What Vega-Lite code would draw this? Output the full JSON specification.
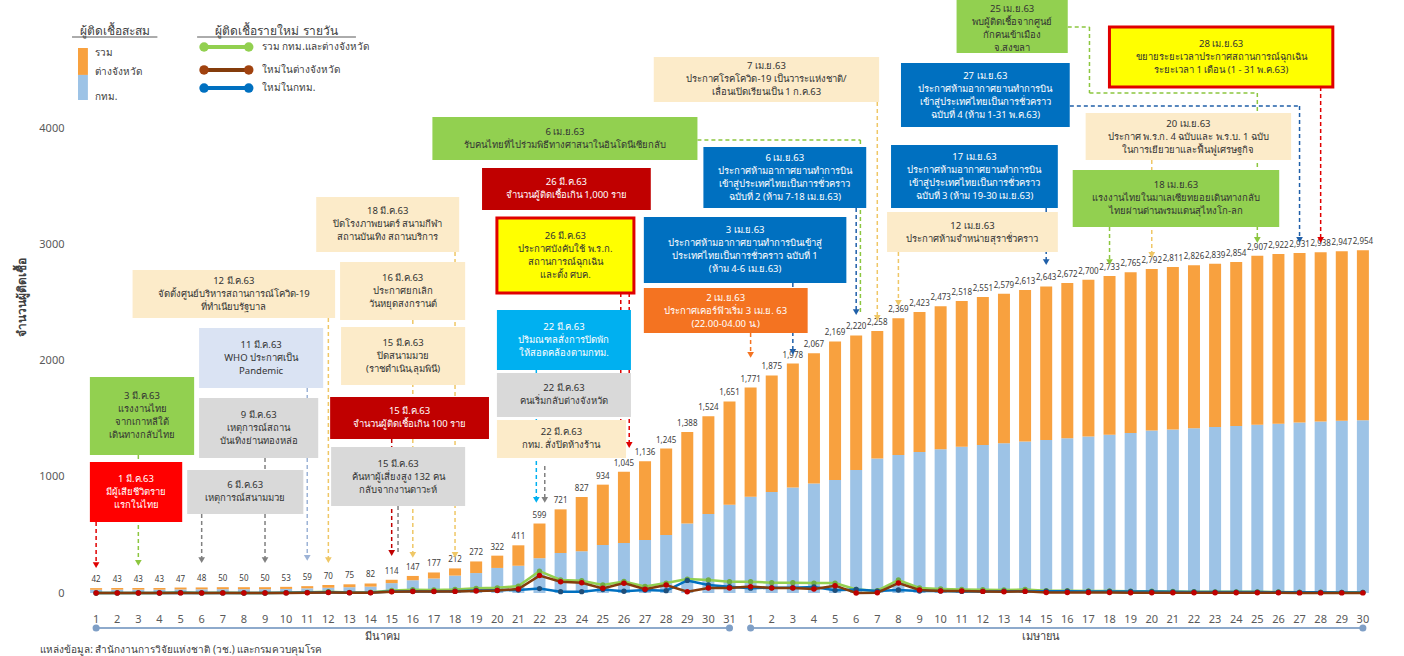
{
 "$schema": "https://vega.github.io/schema/vega-lite/v6.json",
 "width": 1319, "height": 593,
 "autosize": "none",
 "padding": {"left": 70, "top": 0, "right": 15, "bottom": 63},
 "background": "white",
 "config": {"font": "Noto Sans", "view": {"stroke": null}},
 "datasets": {
  "days": [
   {"d":1,"dom":1,"total":42,"bkk":28,"g":0,"p":0,"b":0},
   {"d":2,"dom":2,"total":43,"bkk":29,"g":1,"p":0,"b":1},
   {"d":3,"dom":3,"total":43,"bkk":29,"g":0,"p":0,"b":0},
   {"d":4,"dom":4,"total":43,"bkk":29,"g":0,"p":0,"b":0},
   {"d":5,"dom":5,"total":47,"bkk":31,"g":4,"p":1,"b":3},
   {"d":6,"dom":6,"total":48,"bkk":32,"g":1,"p":0,"b":1},
   {"d":7,"dom":7,"total":50,"bkk":33,"g":2,"p":1,"b":1},
   {"d":8,"dom":8,"total":50,"bkk":33,"g":0,"p":0,"b":0},
   {"d":9,"dom":9,"total":50,"bkk":33,"g":0,"p":0,"b":0},
   {"d":10,"dom":10,"total":53,"bkk":35,"g":3,"p":1,"b":2},
   {"d":11,"dom":11,"total":59,"bkk":40,"g":6,"p":2,"b":4},
   {"d":12,"dom":12,"total":70,"bkk":45,"g":11,"p":4,"b":7},
   {"d":13,"dom":13,"total":75,"bkk":50,"g":5,"p":2,"b":3},
   {"d":14,"dom":14,"total":82,"bkk":55,"g":7,"p":3,"b":4},
   {"d":15,"dom":15,"total":114,"bkk":85,"g":22,"p":10,"b":12},
   {"d":16,"dom":16,"total":147,"bkk":110,"g":28,"p":12,"b":16},
   {"d":17,"dom":17,"total":177,"bkk":125,"g":26,"p":12,"b":14},
   {"d":18,"dom":18,"total":212,"bkk":150,"g":30,"p":14,"b":16},
   {"d":19,"dom":19,"total":272,"bkk":172,"g":40,"p":18,"b":22},
   {"d":20,"dom":20,"total":322,"bkk":216,"g":45,"p":22,"b":23},
   {"d":21,"dom":21,"total":411,"bkk":235,"g":60,"p":34,"b":26},
   {"d":22,"dom":22,"total":599,"bkk":300,"g":188,"p":150,"b":38},
   {"d":23,"dom":23,"total":721,"bkk":345,"g":112,"p":97,"b":11},
   {"d":24,"dom":24,"total":827,"bkk":360,"g":106,"p":89,"b":11},
   {"d":25,"dom":25,"total":934,"bkk":414,"g":70,"p":40,"b":30},
   {"d":26,"dom":26,"total":1045,"bkk":431,"g":100,"p":85,"b":15},
   {"d":27,"dom":27,"total":1136,"bkk":457,"g":57,"p":32,"b":25},
   {"d":28,"dom":28,"total":1245,"bkk":500,"g":86,"p":69,"b":20},
   {"d":29,"dom":29,"total":1388,"bkk":600,"g":120,"p":11,"b":108},
   {"d":30,"dom":30,"total":1524,"bkk":680,"g":112,"p":43,"b":69},
   {"d":31,"dom":31,"total":1651,"bkk":760,"g":97,"p":43,"b":54},
   {"d":32,"dom":1,"total":1771,"bkk":830,"g":97,"p":55,"b":42},
   {"d":33,"dom":2,"total":1875,"bkk":870,"g":89,"p":43,"b":46},
   {"d":34,"dom":3,"total":1978,"bkk":910,"g":89,"p":43,"b":46},
   {"d":35,"dom":4,"total":2067,"bkk":945,"g":86,"p":34,"b":52},
   {"d":36,"dom":5,"total":2169,"bkk":975,"g":86,"p":63,"b":23},
   {"d":37,"dom":6,"total":2220,"bkk":1060,"g":31,"p":0,"b":31},
   {"d":38,"dom":7,"total":2258,"bkk":1160,"g":20,"p":3,"b":17},
   {"d":39,"dom":8,"total":2369,"bkk":1190,"g":112,"p":86,"b":26},
   {"d":40,"dom":9,"total":2423,"bkk":1215,"g":43,"p":26,"b":17},
   {"d":41,"dom":10,"total":2473,"bkk":1240,"g":35,"p":17,"b":18},
   {"d":42,"dom":11,"total":2518,"bkk":1260,"g":31,"p":17,"b":14},
   {"d":43,"dom":12,"total":2551,"bkk":1275,"g":28,"p":14,"b":14},
   {"d":44,"dom":13,"total":2579,"bkk":1290,"g":26,"p":10,"b":16},
   {"d":45,"dom":14,"total":2613,"bkk":1305,"g":30,"p":14,"b":16},
   {"d":46,"dom":15,"total":2643,"bkk":1320,"g":20,"p":5,"b":15},
   {"d":47,"dom":16,"total":2672,"bkk":1335,"g":20,"p":5,"b":15},
   {"d":48,"dom":17,"total":2700,"bkk":1350,"g":18,"p":4,"b":14},
   {"d":49,"dom":18,"total":2733,"bkk":1365,"g":18,"p":4,"b":14},
   {"d":50,"dom":19,"total":2765,"bkk":1380,"g":16,"p":3,"b":13},
   {"d":51,"dom":20,"total":2792,"bkk":1400,"g":15,"p":3,"b":12},
   {"d":52,"dom":21,"total":2811,"bkk":1410,"g":13,"p":3,"b":10},
   {"d":53,"dom":22,"total":2826,"bkk":1420,"g":11,"p":2,"b":9},
   {"d":54,"dom":23,"total":2839,"bkk":1430,"g":10,"p":2,"b":8},
   {"d":55,"dom":24,"total":2854,"bkk":1440,"g":10,"p":2,"b":8},
   {"d":56,"dom":25,"total":2907,"bkk":1450,"g":10,"p":2,"b":8},
   {"d":57,"dom":26,"total":2922,"bkk":1460,"g":9,"p":2,"b":7},
   {"d":58,"dom":27,"total":2931,"bkk":1470,"g":7,"p":1,"b":6},
   {"d":59,"dom":28,"total":2938,"bkk":1478,"g":7,"p":1,"b":6},
   {"d":60,"dom":29,"total":2947,"bkk":1485,"g":6,"p":1,"b":5},
   {"d":61,"dom":30,"total":2954,"bkk":1490,"g":6,"p":1,"b":5}
  ],
  "boxes": [
   {"k":"green","x0":0.705,"x1":5.643,"y0":1862,"y1":1190,"tx":3.174,"ty":1694,"t":"3 มี.ค.63\nแรงงานไทย\nจากเกาหลีใต้\nเดินทางกลับไทย"},
   {"k":"red","x0":0.705,"x1":5.078,"y0":1129,"y1":612,"tx":2.892,"ty":983,"t":"1 มี.ค.63\nมีผู้เสียชีวิตราย\nแรกในไทย"},
   {"k":"gray","x0":5.313,"x1":10.815,"y0":1060,"y1":681,"tx":8.064,"ty":927,"t":"6 มี.ค.63\nเหตุการณ์สนามมวย"},
   {"k":"gray","x0":5.878,"x1":11.52,"y0":1681,"y1":1164,"tx":8.699,"ty":1534,"t":"9 มี.ค.63\nเหตุการณ์สถาน\nบันเทิงย่านทองหล่อ"},
   {"k":"lb","x0":5.878,"x1":11.755,"y0":2284,"y1":1767,"tx":8.816,"ty":2138,"t":"11 มี.ค.63\nWHO ประกาศเป็น\nPandemic"},
   {"k":"beige","x0":2.727,"x1":12.32,"y0":2784,"y1":2371,"tx":7.523,"ty":2690,"t":"12 มี.ค.63\nจัดตั้งศูนย์บริหารสถานการณ์โควิด-19\nที่ทำเนียบรัฐบาล"},
   {"k":"beige","x0":11.426,"x1":18.197,"y0":3414,"y1":2940,"tx":14.812,"ty":3289,"t":"18 มี.ค.63\nปิดโรงภาพยนตร์ สนามกีฬา\nสถานบันเทิง สถานบริการ"},
   {"k":"beige","x0":12.555,"x1":18.479,"y0":2853,"y1":2353,"tx":15.517,"ty":2715,"t":"16 มี.ค.63\nประกาศยกเลิก\nวันหยุดสงกรานต์"},
   {"k":"beige","x0":12.602,"x1":18.479,"y0":2293,"y1":1793,"tx":15.54,"ty":2155,"t":"15 มี.ค.63\nปิดสนามมวย\n(ราชดำเนิน,ลุมพินี)"},
   {"k":"dred","x0":12.084,"x1":19.608,"y0":1690,"y1":1328,"tx":15.846,"ty":1565,"t":"15 มี.ค.63\nจำนวนผู้ติดเชื้อเกิน 100 ราย"},
   {"k":"gray","x0":12.131,"x1":18.479,"y0":1259,"y1":750,"tx":15.305,"ty":1116,"t":"15 มี.ค.63\nค้นหาผู้เสี่ยงสูง 132 คน\nกลับจากงานดาวะห์"},
   {"k":"dred","x0":19.279,"x1":27.272,"y0":3664,"y1":3302,"tx":23.275,"ty":3539,"t":"26 มี.ค.63\nจำนวนผู้ติดเชื้อเกิน 1,000 ราย"},
   {"k":"yellow","x0":19.984,"x1":26.473,"y0":3233,"y1":2586,"tx":23.228,"ty":3077,"t":"26 มี.ค.63\nประกาศบังคับใช้ พ.ร.ก.\nสถานการณ์ฉุกเฉิน\nและตั้ง ศบค."},
   {"k":"cyan","x0":19.984,"x1":26.332,"y0":2440,"y1":1922,"tx":23.158,"ty":2293,"t":"22 มี.ค.63\nปริมณฑลสั่งการปิดพัก\nให้สอดคล้องตามกทม."},
   {"k":"gray","x0":19.984,"x1":26.332,"y0":1897,"y1":1517,"tx":23.158,"ty":1763,"t":"22 มี.ค.63\nคนเริ่มกลับต่างจังหวัด"},
   {"k":"beige","x0":19.984,"x1":26.1,"y0":1491,"y1":1164,"tx":23.04,"ty":1384,"t":"22 มี.ค.63\nกทม. สั่งปิดห้างร้าน"},
   {"k":"green","x0":16.928,"x1":29.482,"y0":4103,"y1":3733,"tx":23.205,"ty":3974,"t":"6 เม.ย.63\nรับคนไทยที่ไปร่วมพิธีทางศาสนาในอินโดนีเซียกลับ"},
   {"k":"beige","x0":27.413,"x1":38.087,"y0":4621,"y1":4233,"tx":32.75,"ty":4539,"t":"7 เม.ย.63\nประกาศโรคโควิด-19 เป็นวาระแห่งชาติ/\nเลื่อนเปิดเรียนเป็น 1 ก.ค.63"},
   {"k":"blue","x0":29.764,"x1":37.476,"y0":3845,"y1":3319,"tx":33.62,"ty":3750,"t":"6 เม.ย.63\nประกาศห้ามอากาศยานทำการบิน\nเข้าสู่ประเทศไทยเป็นการชั่วคราว\nฉบับที่ 2 (ห้าม 7-18 เม.ย.63)"},
   {"k":"blue","x0":26.943,"x1":36.535,"y0":3241,"y1":2672,"tx":31.739,"ty":3125,"t":"3 เม.ย.63\nประกาศห้ามอากาศยานทำการบินเข้าสู่\nประเทศไทยเป็นการชั่วคราว ฉบับที่ 1\n(ห้าม 4-6 เม.ย.63)"},
   {"k":"orange","x0":26.943,"x1":34.702,"y0":2629,"y1":2241,"tx":30.822,"ty":2547,"t":"2 เม.ย.63\nประกาศเคอร์ฟิวเริ่ม 3 เม.ย. 63\n(22.00-04.00 น.)"},
   {"k":"green","x0":41.755,"x1":47.021,"y0":5198,"y1":4655,"tx":44.388,"ty":5035,"t":"25 เม.ย.63\nพบผู้ติดเชื้อจากศูนย์\nกักคนเข้าเมือง\nจ.สงขลา"},
   {"k":"yellow","x0":48.996,"x1":59.576,"y0":4879,"y1":4362,"tx":54.286,"ty":4733,"t":"28 เม.ย.63\nขยายระยะเวลาประกาศสถานการณ์ฉุกเฉิน\nระยะเวลา 1 เดือน (1 - 31 พ.ค.63)"},
   {"k":"blue","x0":39.122,"x1":47.115,"y0":4569,"y1":4017,"tx":43.118,"ty":4461,"t":"27 เม.ย.63\nประกาศห้ามอากาศยานทำการบิน\nเข้าสู่ประเทศไทยเป็นการชั่วคราว\nฉบับที่ 4 (ห้าม 1-31 พ.ค.63)"},
   {"k":"beige","x0":47.868,"x1":57.601,"y0":4138,"y1":3733,"tx":52.734,"ty":4047,"t":"20 เม.ย.63\nประกาศ พ.ร.ก. 4 ฉบับและ พ.ร.บ. 1 ฉบับ\nในการเยียวยาและฟื้นฟูเศรษฐกิจ"},
   {"k":"blue","x0":38.651,"x1":46.551,"y0":3862,"y1":3319,"tx":42.601,"ty":3759,"t":"17 เม.ย.63\nประกาศห้ามอากาศยานทำการบิน\nเข้าสู่ประเทศไทยเป็นการชั่วคราว\nฉบับที่ 3 (ห้าม 19-30 เม.ย.63)"},
   {"k":"beige","x0":38.463,"x1":46.551,"y0":3284,"y1":2940,"tx":42.507,"ty":3168,"t":"12 เม.ย.63\nประกาศห้ามจำหน่ายสุราชั่วคราว"},
   {"k":"green","x0":47.256,"x1":57.037,"y0":3647,"y1":3155,"tx":52.147,"ty":3513,"t":"18 เม.ย.63\nแรงงานไทยในมาเลเซียทยอยเดินทางกลับ\nไทยผ่านด่านพรมแดนสุไหงโก-ลก"}
  ],
  "arrows": [
   {"k":"red","x":1,"x2":1,"y":612,"y2":241,"head":true},
   {"k":"green","x":3,"x2":3,"y":1190,"y2":259,"head":true},
   {"k":"gray","x":6,"x2":6,"y":681,"y2":284,"head":true},
   {"k":"gray","x":9,"x2":9,"y":1164,"y2":284,"head":true},
   {"k":"lb","x":11,"x2":11,"y":1767,"y2":302,"head":true},
   {"k":"beige","x":12,"x2":12,"y":2371,"y2":284,"head":true},
   {"k":"dred","x":15,"x2":15,"y":1328,"y2":345,"head":true},
   {"k":"gray","x":15.3,"x2":15.3,"y":750,"y2":345,"head":false},
   {"k":"beige","x":16,"x2":16,"y":2353,"y2":328,"head":true},
   {"k":"beige","x":18,"x2":18,"y":2940,"y2":328,"head":true},
   {"k":"cyan","x":21.85,"x2":21.85,"y":1922,"y2":802,"head":true},
   {"k":"gray","x":22.25,"x2":22.25,"y":1095,"y2":802,"head":true},
   {"k":"red","x":25.85,"x2":25.85,"y":2586,"y2":1276,"head":true},
   {"k":"red","x":26.25,"x2":26.25,"y":2586,"y2":1276,"head":true},
   {"k":"orange","x":32,"x2":32,"y":2241,"y2":2052,"head":true},
   {"k":"blue","x":34,"x2":34,"y":2672,"y2":2078,"head":true},
   {"k":"blue","x":37,"x2":37,"y":3319,"y2":2422,"head":true},
   {"k":"green","x":29.48,"x2":37.2,"y":3905,"y2":3905,"head":false},
   {"k":"green","x":37.2,"x2":37.2,"y":3905,"y2":2422,"head":false},
   {"k":"beige","x":38,"x2":38,"y":4233,"y2":2371,"head":true},
   {"k":"beige","x":39,"x2":39,"y":2940,"y2":2500,"head":true},
   {"k":"blue","x":46,"x2":46,"y":3319,"y2":2853,"head":true},
   {"k":"green","x":49,"x2":49,"y":3155,"y2":2853,"head":true},
   {"k":"beige","x":51,"x2":51,"y":3733,"y2":2914,"head":true},
   {"k":"green","x":47.02,"x2":48.05,"y":4879,"y2":4879,"head":false},
   {"k":"green","x":48.05,"x2":48.05,"y":4879,"y2":4310,"head":false},
   {"k":"green","x":48.05,"x2":56,"y":4310,"y2":4310,"head":false},
   {"k":"green","x":56,"x2":56,"y":4310,"y2":3043,"head":true},
   {"k":"blue","x":47.12,"x2":58,"y":4198,"y2":4198,"head":false},
   {"k":"blue","x":58,"x2":58,"y":4198,"y2":3043,"head":true},
   {"k":"red","x":59,"x2":59,"y":4362,"y2":3043,"head":true}
  ]
 },
 "layer": [
  {
   "data": {"name": "days"},
   "mark": {"type": "bar", "size": 12, "orient": "vertical", "color": "#9dc3e6"},
   "encoding": {
    "x": {"field": "d", "type": "quantitative", "scale": {"domain": [0, 62], "nice": false, "zero": false},
          "axis": {"title": null, "labels": false, "ticks": false, "domain": false, "grid": false}},
    "y": {"field": "bkk", "type": "quantitative", "scale": {"domain": [0, 5112], "nice": false},
          "axis": {"title": "จำนวนผู้ติดเชื้อ", "values": [0,1000,2000,3000,4000], "format": "d", "labelPadding": 6, "labelFontSize": 11, "labelColor": "#595959", "ticks": false, "domain": false, "grid": false, "titleFontSize": 12, "titleFontWeight": "bold", "titleColor": "#404040", "titlePadding": 10}},
    "y2": {"datum": 0}
   }
  },
  {
   "data": {"name": "days"},
   "mark": {"type": "bar", "size": 12, "orient": "vertical", "color": "#f8a13f"},
   "encoding": {
    "x": {"field": "d", "type": "quantitative"},
    "y": {"field": "bkk", "type": "quantitative"},
    "y2": {"field": "total"}
   }
  },
  {
   "data": {"name": "days"},
   "mark": {"type": "text", "fontSize": 8, "dy": -8, "color": "#404040"},
   "encoding": {
    "x": {"field": "d", "type": "quantitative"},
    "y": {"field": "total", "type": "quantitative"},
    "text": {"field": "total", "type": "quantitative", "format": ","}
   }
  },
  {
   "data": {"name": "days"},
   "mark": {"type": "text", "fontSize": 11, "color": "#595959", "baseline": "middle", "y": 620},
   "encoding": {
    "x": {"field": "d", "type": "quantitative"},
    "text": {"field": "dom", "type": "quantitative"}
   }
  },
  {
   "data": {"name": "days"},
   "mark": {"type": "line", "color": "#92d050", "strokeWidth": 2.5, "point": {"filled": true, "size": 28, "color": "#70ad47"}},
   "encoding": {"x": {"field": "d", "type": "quantitative"}, "y": {"field": "g", "type": "quantitative"}}
  },
  {
   "data": {"name": "days"},
   "mark": {"type": "line", "color": "#0070c0", "strokeWidth": 2.5, "point": {"filled": true, "size": 28, "color": "#1f4e79"}},
   "encoding": {"x": {"field": "d", "type": "quantitative"}, "y": {"field": "b", "type": "quantitative"}}
  },
  {
   "data": {"name": "days"},
   "mark": {"type": "line", "color": "#843c0c", "strokeWidth": 2.5, "point": {"filled": true, "size": 30, "color": "#c00000"}},
   "encoding": {"x": {"field": "d", "type": "quantitative"}, "y": {"field": "p", "type": "quantitative"}}
  },
  {
   "data": {"name": "arrows"},
   "mark": {"type": "rule", "strokeDash": [4, 3], "strokeWidth": 1.5},
   "encoding": {
    "x": {"field": "x", "type": "quantitative"}, "x2": {"field": "x2"},
    "y": {"field": "y", "type": "quantitative"}, "y2": {"field": "y2"},
    "color": {"field": "k", "type": "nominal", "legend": null,
              "scale": {"domain": ["red","dred","green","gray","lb","beige","cyan","blue","orange"],
                        "range": ["#e00000","#c00000","#8cc63f","#808080","#9db3d6","#efc766","#00b0f0","#1f5fa8","#f47321"]}}
   }
  },
  {
   "data": {"name": "arrows"},
   "transform": [{"filter": "datum.head"}],
   "mark": {"type": "point", "shape": "triangle-down", "filled": true, "size": 45, "opacity": 1},
   "encoding": {
    "x": {"field": "x2", "type": "quantitative"},
    "y": {"field": "y2", "type": "quantitative"},
    "color": {"field": "k", "type": "nominal", "legend": null}
   }
  },
  {
   "data": {"name": "boxes"},
   "mark": {"type": "rect"},
   "encoding": {
    "x": {"field": "x0", "type": "quantitative"}, "x2": {"field": "x1"},
    "y": {"field": "y0", "type": "quantitative"}, "y2": {"field": "y1"},
    "fill": {"field": "k", "type": "nominal", "legend": null,
             "scale": {"domain": ["green","red","dred","gray","lb","beige","yellow","cyan","blue","orange"],
                       "range": ["#92d050","#ff0000","#c00000","#d9d9d9","#dae3f3","#fcebc9","#ffff00","#00b0f0","#0070c0","#f47321"]}},
    "stroke": {"condition": {"test": "datum.k === 'yellow'", "value": "#e00000"}, "value": "transparent"},
    "strokeWidth": {"condition": {"test": "datum.k === 'yellow'", "value": 3}, "value": 0}
   }
  },
  {
   "data": {"name": "boxes"},
   "mark": {"type": "text", "fontSize": 9.5, "lineBreak": "\n", "lineHeight": 13, "align": "center", "baseline": "middle"},
   "encoding": {
    "x": {"field": "tx", "type": "quantitative"},
    "y": {"field": "ty", "type": "quantitative"},
    "text": {"field": "t"},
    "color": {"condition": {"test": "indexof(['red','dred','blue','cyan','orange'], datum.k) >= 0", "value": "white"}, "value": "#333333"}
   }
  },
  {
   "data": {"values": [{"x0":0.141,"x1":0.611,"y0":4698,"y1":4466,"c":"o"},{"x0":0.141,"x1":0.611,"y0":4466,"y1":4250,"c":"b"}]},
   "mark": "rect",
   "encoding": {
    "x": {"field": "x0", "type": "quantitative"}, "x2": {"field": "x1"},
    "y": {"field": "y0", "type": "quantitative"}, "y2": {"field": "y1"},
    "fill": {"condition": {"test": "datum.c === 'o'", "value": "#f8a13f"}, "value": "#9dc3e6"}
   }
  },
  {
   "data": {"values": [
     {"x0":-0.141,"x1":3.903,"y":4793,"c":"h"},{"x0":5.784,"x1":13.307,"y":4793,"c":"h"}]},
   "mark": {"type": "rule", "strokeWidth": 1, "color": "#595959"},
   "encoding": {"x": {"field": "x0", "type": "quantitative"}, "x2": {"field": "x1"}, "y": {"field": "y", "type": "quantitative"}}
  },
  {
   "data": {"values": [
     {"x0":6.113,"x1":8.229,"y":4707,"c":"g"},{"x0":6.113,"x1":8.229,"y":4509,"c":"r"},{"x0":6.113,"x1":8.229,"y":4353,"c":"b"}]},
   "mark": {"type": "rule", "strokeWidth": 4},
   "encoding": {"x": {"field": "x0", "type": "quantitative"}, "x2": {"field": "x1"}, "y": {"field": "y", "type": "quantitative"},
    "stroke": {"condition": [{"test": "datum.c === 'g'", "value": "#92d050"}, {"test": "datum.c === 'r'", "value": "#843c0c"}], "value": "#0070c0"}}
  },
  {
   "data": {"values": [
     {"x":6.113,"y":4707,"c":"g"},{"x":8.229,"y":4707,"c":"g"},{"x":6.113,"y":4509,"c":"r"},{"x":8.229,"y":4509,"c":"r"},{"x":6.113,"y":4353,"c":"b"},{"x":8.229,"y":4353,"c":"b"}]},
   "mark": {"type": "point", "filled": true, "size": 90, "opacity": 1},
   "encoding": {"x": {"field": "x", "type": "quantitative"}, "y": {"field": "y", "type": "quantitative"},
    "fill": {"condition": [{"test": "datum.c === 'g'", "value": "#92d050"}, {"test": "datum.c === 'r'", "value": "#a0420f"}], "value": "#0070c0"}}
  },
  {
   "data": {"values": [
     {"x":1.881,"y":4845,"t":"ผู้ติดเชื้อสะสม"},{"x":9.545,"y":4845,"t":"ผู้ติดเชื้อรายใหม่ รายวัน"}]},
   "mark": {"type": "text", "fontSize": 12, "color": "#404040", "baseline": "middle"},
   "encoding": {"x": {"field": "x", "type": "quantitative"}, "y": {"field": "y", "type": "quantitative"}, "text": {"field": "t"}}
  },
  {
   "data": {"values": [
     {"x":0.94,"y":4655,"t":"รวม"},{"x":0.94,"y":4491,"t":"ต่างจังหวัด"},{"x":0.94,"y":4276,"t":"กทม."},
     {"x":8.84,"y":4707,"t":"รวม กทม.และต่างจังหวัด"},{"x":8.84,"y":4509,"t":"ใหม่ในต่างจังหวัด"},{"x":8.84,"y":4353,"t":"ใหม่ในกทม."}]},
   "mark": {"type": "text", "fontSize": 10, "color": "#404040", "align": "left", "baseline": "middle"},
   "encoding": {"x": {"field": "x", "type": "quantitative"}, "y": {"field": "y", "type": "quantitative"}, "text": {"field": "t"}}
  },
  {
   "data": {"values": [{"x0":1,"x1":31,"y":-302},{"x0":32,"x1":61,"y":-302}]},
   "mark": {"type": "rule", "strokeWidth": 2, "color": "#8eaacc"},
   "encoding": {"x": {"field": "x0", "type": "quantitative"}, "x2": {"field": "x1"}, "y": {"field": "y", "type": "quantitative"}}
  },
  {
   "data": {"values": [{"x":1,"y":-302},{"x":31,"y":-302},{"x":32,"y":-302},{"x":61,"y":-302}]},
   "mark": {"type": "point", "filled": true, "size": 50, "color": "#7f9fc6", "opacity": 1},
   "encoding": {"x": {"field": "x", "type": "quantitative"}, "y": {"field": "y", "type": "quantitative"}}
  },
  {
   "data": {"values": [{"x":14.58,"y":-379,"t":"มีนาคม"},{"x":45.75,"y":-379,"t":"เมษายน"}]},
   "mark": {"type": "text", "fontSize": 11, "color": "#404040", "baseline": "middle"},
   "encoding": {"x": {"field": "x", "type": "quantitative"}, "y": {"field": "y", "type": "quantitative"}, "text": {"field": "t"}}
  },
  {
   "data": {"values": [{"x":-1.65,"y":-491,"t":"แหล่งข้อมูล: สำนักงานการวิจัยแห่งชาติ (วช.) และกรมควบคุมโรค"}]},
   "mark": {"type": "text", "fontSize": 10, "color": "#404040", "align": "left", "baseline": "middle"},
   "encoding": {"x": {"field": "x", "type": "quantitative"}, "y": {"field": "y", "type": "quantitative"}, "text": {"field": "t"}}
  }
 ]
}
